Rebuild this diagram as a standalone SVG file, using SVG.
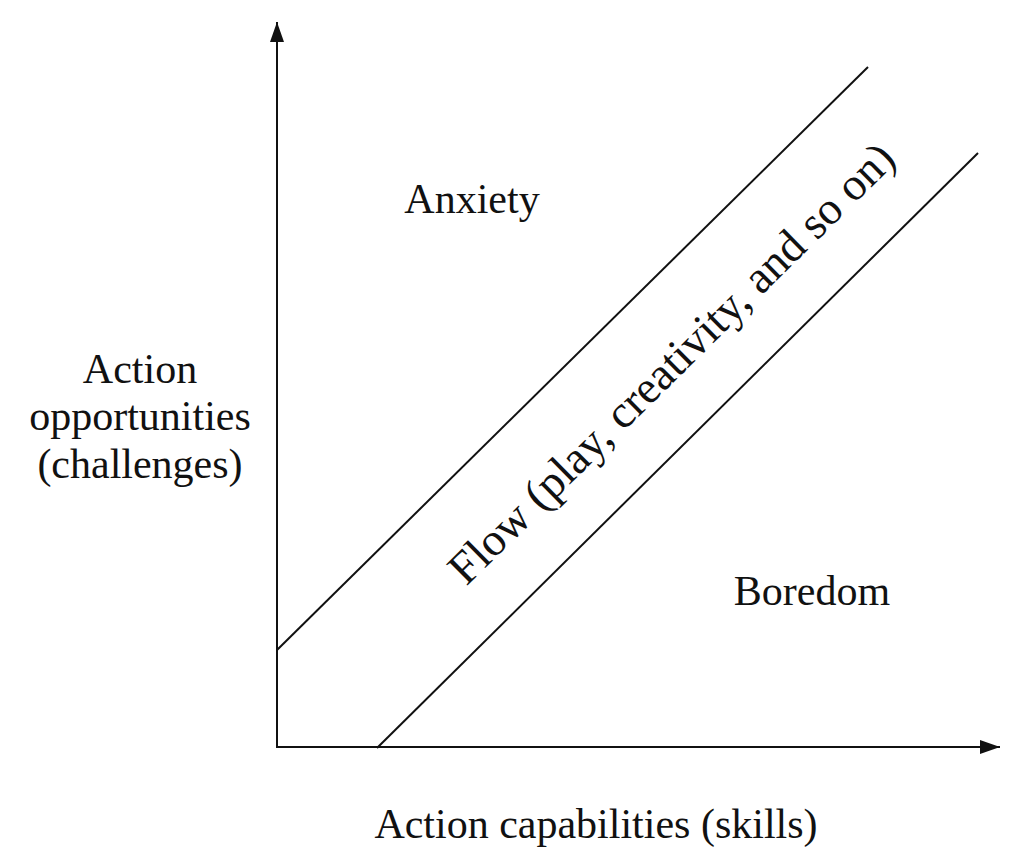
<svg xmlns="http://www.w3.org/2000/svg" width="1024" height="859" viewBox="0 0 1024 859">
<style>
text{font-family:"Liberation Serif","Times New Roman",serif;font-size:42px;fill:#111}
.l{stroke:#111;stroke-width:2;fill:none}
</style>
<defs><marker id="b" viewBox="0 0 20 14" refX="20" refY="7" markerWidth="20" markerHeight="14" markerUnits="userSpaceOnUse" orient="auto"><path d="M0,0L20,7L0,14z" fill="#111"/></marker></defs>
<rect width="1024" height="859" fill="#fff"/>
<g id="connectors">
<line class="l" x1="277" y1="748" x2="277" y2="22" marker-end="url(#b)"/>
<line class="l" x1="277" y1="747" x2="1000" y2="747" marker-end="url(#b)"/>
<line class="l" x1="277" y1="650" x2="868" y2="67"/>
<line class="l" x1="377" y1="748" x2="978" y2="153"/>
</g>
<g id="anxiety"><text x="472" y="213" text-anchor="middle">Anxiety</text></g>
<g id="boredom"><text x="812" y="605" text-anchor="middle">Boredom</text></g>
<g id="flow"><text transform="translate(682,374) rotate(-44.6)" text-anchor="middle" style="font-size:46px">Flow (play, creativity, and so on)</text></g>
<g id="ylabel"><text x="140" y="383" text-anchor="middle">Action</text><text x="140" y="430" text-anchor="middle">opportunities</text><text x="140" y="478" text-anchor="middle">(challenges)</text></g>
<g id="xlabel"><text x="596" y="838" text-anchor="middle">Action capabilities (skills)</text></g>
</svg>
